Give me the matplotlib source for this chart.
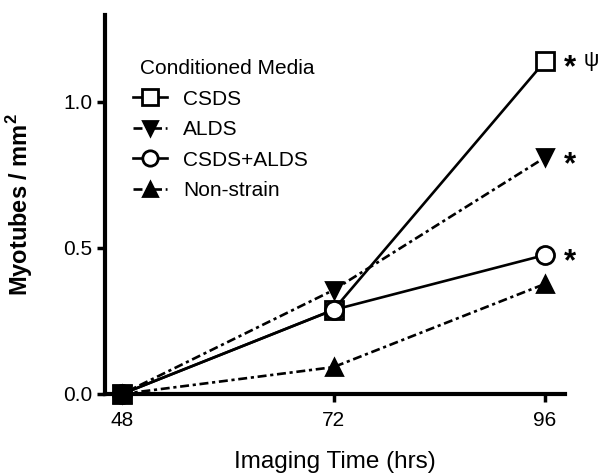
import matplotlib
matplotlib.use("Agg")
import matplotlib.pyplot as plt
from matplotlib.textpath import TextPath
from matplotlib.font_manager import FontProperties

plt.rcParams['font.family'] = ['Liberation Sans', 'DejaVu Sans']

hours = [48, 72, 96]
csds = [0.0, 0.288, 1.14]
alds = [0.0, 0.356, 0.81]
csds_alds = [0.0, 0.288, 0.476]
non_strain = [0.0, 0.092, 0.377]
series_labels = ["CSDS", "ALDS", "CSDS+ALDS", "Non-strain"]
star_marks = ["*", "*", "*", ""]
psi_marks = ["\u03c8", "", "", ""]
xtick_labels = ["48", "72", "96"]
ytick_values = [0.0, 0.5, 1.0]
ytick_labels = ["0.0", "0.5", "1.0"]

fig = plt.figure(figsize=(6, 4.74), dpi=100)
ax = fig.add_axes([0.175, 0.1688, 0.7667, 0.7996])

lw = 1.9
dashdot = (0, (3.4, 1.4, 1.2, 1.4))
styles = [
    dict(marker='s', mfc='white', ms=13, ls='-'),
    dict(marker='v', mfc='black', ms=12, ls=dashdot),
    dict(marker='o', mfc='white', ms=13, ls='-'),
    dict(marker='^', mfc='black', ms=12, ls=dashdot),
]
data = [csds, alds, csds_alds, non_strain]
handles = []
for i, (vals, st, lab) in enumerate(zip(data, styles, series_labels)):
    ln, = ax.plot(hours, vals, color='black', lw=lw, marker=st['marker'],
                  mfc=st['mfc'], mec='black', mew=2, ms=st['ms'],
                  ls=st['ls'], clip_on=False, zorder=3 + i, label=lab)
    handles.append(ln)

# filled marker at origin where all overlap
ax.plot([hours[0]], [csds[0]], marker='s', color='black', ms=13,
        clip_on=False, zorder=10, ls='none')


def glyph_mark(txt, vals, center_dx_pt, width_pt, weight):
    prop = FontProperties(family='Liberation Sans', weight=weight)
    bb = TextPath((0, 0), txt, size=20, prop=prop).get_extents()
    size = 20 * width_pt / bb.width
    scale = size / 20
    x0, x1, y0, y1 = bb.x0 * scale, bb.x1 * scale, bb.y0 * scale, bb.y1 * scale
    dx = center_dx_pt - (x0 + x1) / 2
    dy = -(y0 + y1) / 2
    ax.annotate(txt, xy=(hours[-1], vals[-1]), xytext=(dx, dy),
                textcoords='offset points', fontsize=size, fontweight=weight,
                fontfamily='Liberation Sans',
                va='baseline', ha='left', annotation_clip=False)


for vals, star, psi in zip(data, star_marks, psi_marks):
    if star:
        glyph_mark(star, vals, 17.6, 8.6, 'bold')
    if psi:
        glyph_mark(psi, vals, 33.4, 9.0, 'normal')

ax.set_xlim(46.07, 98.27)
ax.set_ylim(0, 1.298)
ax.set_xticks(hours)
ax.set_xticklabels(xtick_labels)
ax.set_yticks(ytick_values)
ax.set_yticklabels(ytick_labels)

for s in ['top', 'right']:
    ax.spines[s].set_visible(False)
for s in ['left', 'bottom']:
    ax.spines[s].set_linewidth(3)

ax.tick_params(axis='both', direction='out', length=6, width=2.5, labelsize=15, colors='black')
ax.tick_params(axis='y', pad=3)
ax.tick_params(axis='x', pad=6)

ax.set_xlabel("Imaging Time (hrs)", fontsize=17.5)
ax.set_ylabel("Myotubes / mm$^\\mathregular{2}$", fontsize=17, fontweight='bold')
ax.xaxis.set_label_coords(0.5, -0.15)
ax.yaxis.set_label_coords(-0.152, 0.5)

leg = ax.legend(handles=handles, loc='upper left', bbox_to_anchor=(0.043, 0.905),
                frameon=False, fontsize=15, title="Conditioned Media",
                title_fontsize=15, alignment='left', handlelength=1.65,
                handletextpad=0.75, labelspacing=0.55, borderaxespad=0,
                markerscale=0.85)
leg.get_title().set_position((7, 0))

fig.savefig("out.png", dpi=100)
